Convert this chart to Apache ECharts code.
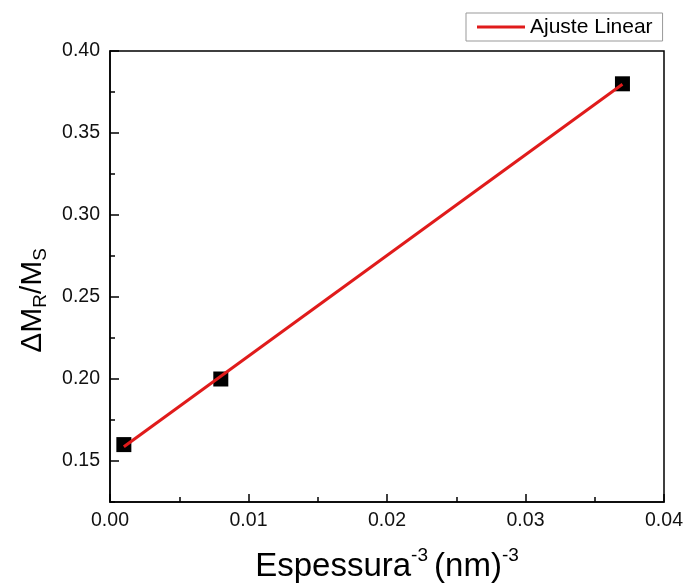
<!DOCTYPE html>
<html>
<head>
<meta charset="utf-8">
<script src="https://cdn.jsdelivr.net/npm/echarts@6/dist/echarts.min.js"></script>
<style>
html,body{margin:0;padding:0;background:#fff;}
#chart{width:683px;height:585px;}
</style>
</head>
<body>
<div id="chart"></div>
<script>
// ---- data ----
const pointX = [0.001, 0.008, 0.037];
const pointY = [0.160, 0.200, 0.380];
const fitX = [0.001, 0.037];
const fitY = [0.1587, 0.3797];
const yMajorTicks = [0.15, 0.20, 0.25, 0.30, 0.35, 0.40];
const fitName = 'Ajuste Linear';

const FONT = 'Liberation Sans, Arial, sans-serif';
const pts = pointX.map((x, i) => [x, pointY[i]]);
const fit = fitX.map((x, i) => [x, fitY[i]]);

const chart = echarts.init(document.getElementById('chart'), null, {renderer: 'canvas'});
chart.setOption({
  animation: false,
  backgroundColor: '#fff',
  grid: {
    left: 110, top: 51, width: 554, height: 451,
    containLabel: false, outerBoundsMode: 'none',
    show: true, borderColor: '#000', borderWidth: 1.5, backgroundColor: 'transparent'
  },
  legend: {
    data: [{name: fitName, icon: 'rect'}],
    left: 466, top: 13,
    orient: 'horizontal',
    padding: [3, 10, 3, 11],
    itemWidth: 48, itemHeight: 3, itemGap: 5,
    borderColor: '#999', borderWidth: 1, backgroundColor: '#fff',
    textStyle: {fontFamily: FONT, fontSize: 21, color: '#000', lineHeight: 22}
  },
  xAxis: {
    type: 'value', min: 0, max: 0.04, interval: 0.01,
    position: 'bottom',
    axisLine: {show: true, onZero: false, lineStyle: {color: '#000', width: 1.5}},
    axisTick: {show: true, inside: true, length: 8, lineStyle: {color: '#000', width: 1.5}},
    minorTick: {show: true, splitNumber: 2, length: 5, lineStyle: {color: '#000', width: 1.5}},
    splitLine: {show: false},
    axisLabel: {fontFamily: FONT, fontSize: 19.5, color: '#111', margin: 9,
      formatter: v => v.toFixed(2)},
    name: '{a|Espessura}{s|-3}{g| }{a|(nm)}{s|-3}',
    nameLocation: 'middle', nameGap: 44,
    nameTextStyle: {
      rich: {
        a: {fontFamily: FONT, fontSize: 33, color: '#000', lineHeight: 41},
        g: {fontFamily: FONT, fontSize: 22, color: '#000', lineHeight: 41},
        s: {fontFamily: FONT, fontSize: 19, color: '#000', lineHeight: 19, verticalAlign: 'top'}
      }
    }
  },
  yAxis: [{
    type: 'value', min: 0.125, max: 0.40, interval: 0.025,
    position: 'left',
    axisLine: {show: true, onZero: false, lineStyle: {color: '#000', width: 1.5}},
    axisTick: {show: true, inside: true, length: 9, customValues: yMajorTicks,
      lineStyle: {color: '#000', width: 1.5}},
    splitLine: {show: false},
    axisLabel: {fontFamily: FONT, fontSize: 19.5, color: '#111', margin: 10,
      customValues: yMajorTicks,
      formatter: v => v.toFixed(2)},
    name: '{a|ΔM}{b|R}{a|/M}{b|S}',
    nameLocation: 'middle', nameRotate: 90, nameGap: 60,
    nameTextStyle: {
      padding: [0, 48, 0, 0],
      rich: {
        a: {fontFamily: FONT, fontSize: 30, color: '#000', lineHeight: 34},
        b: {fontFamily: FONT, fontSize: 19, color: '#000', lineHeight: 19, verticalAlign: 'bottom'}
      }
    }
  }, {
    type: 'value', min: 0.125, max: 0.40, interval: 0.025,
    position: 'left',
    axisLine: {show: false, onZero: false},
    axisTick: {show: true, inside: true, length: 5, lineStyle: {color: '#000', width: 1.5}},
    splitLine: {show: false},
    axisLabel: {show: false}
  }],
  series: [{
    name: 'points',
    type: 'scatter',
    data: pts,
    symbol: 'rect', symbolSize: 15,
    itemStyle: {color: '#000', opacity: 1},
    z: 2
  }, {
    name: fitName,
    type: 'line',
    data: fit,
    symbol: 'none', showSymbol: false,
    lineStyle: {color: '#e01b1b', width: 3},
    itemStyle: {color: '#e01b1b'},
    z: 3
  }]
});
</script>
</body>
</html>
